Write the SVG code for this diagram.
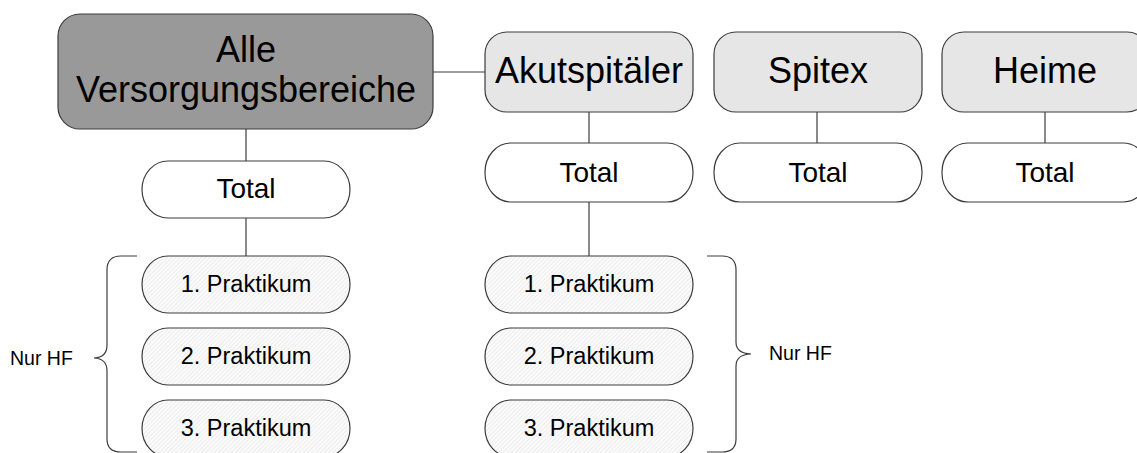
<svg xmlns="http://www.w3.org/2000/svg" width="1137" height="453" viewBox="0 0 1137 453">
<style>
  text { font-family: "Liberation Sans", Arial, sans-serif; fill: #000; text-anchor: middle; }
  .ln { stroke: #3c3c3c; stroke-width: 1.2; fill: none; }
  .main { fill: #999999; stroke: #3c3c3c; stroke-width: 1.2; }
  .cat { fill: #e6e6e6; stroke: #3c3c3c; stroke-width: 1.2; }
  .tot { fill: #ffffff; stroke: #3c3c3c; stroke-width: 1.2; }
  .prak { fill: url(#hatch); stroke: #3c3c3c; stroke-width: 1.2; }
  .big { font-size: 36px; }
  .mid { font-size: 28px; }
  .sm { font-size: 23.5px; }
  .note { font-size: 19.5px; text-anchor: start; }
</style>
<defs>
  <pattern id="hatch" patternUnits="userSpaceOnUse" width="3" height="3" patternTransform="rotate(45)">
    <rect width="3" height="3" fill="#fbfbfb"/>
    <line x1="0" y1="0" x2="0" y2="3" stroke="#dedede" stroke-width="1"/>
  </pattern>
</defs>
<rect width="1137" height="453" fill="#ffffff"/>

<g id="connectors">
  <line class="ln" x1="433" y1="72" x2="485" y2="72"/>
  <line class="ln" x1="246" y1="129" x2="246" y2="161"/>
  <line class="ln" x1="246" y1="218" x2="246" y2="256"/>
  <line class="ln" x1="589" y1="112" x2="589" y2="143"/>
  <line class="ln" x1="589" y1="202" x2="589" y2="256"/>
  <line class="ln" x1="817" y1="112" x2="817" y2="143"/>
  <line class="ln" x1="1045" y1="112" x2="1045" y2="143"/>
</g>

<g id="brace-left">
  <path class="ln" d="M137,256 H121 Q107,256 107,270 V345 Q107,357.5 94,358 Q107,358.5 107,371 V439 Q107,452 121,452 H137"/>
  <text class="note" x="10" y="365">Nur HF</text>
</g>
<g id="brace-right">
  <path class="ln" d="M707,256 H722 Q736,256 736,270 V342 Q736,353.5 751,354 Q736,354.5 736,366 V439 Q736,452 722,452 H707"/>
  <text class="note" x="769" y="360">Nur HF</text>
</g>

<g id="node-alle">
  <rect class="main" x="58" y="14" width="375" height="115" rx="22" ry="22"/>
  <text class="big" x="246" y="62">Alle</text>
  <text class="big" x="246" y="102">Versorgungsbereiche</text>
</g>
<g id="node-akut">
  <rect class="cat" x="485" y="32" width="208" height="80" rx="22" ry="22"/>
  <text class="big" x="589" y="83">Akutspitäler</text>
</g>
<g id="node-spitex">
  <rect class="cat" x="714" y="32" width="208" height="80" rx="22" ry="22"/>
  <text class="big" x="818" y="83">Spitex</text>
</g>
<g id="node-heime">
  <rect class="cat" x="942" y="32" width="207" height="80" rx="22" ry="22"/>
  <text class="big" x="1045" y="83">Heime</text>
</g>

<g id="node-total-alle">
  <rect class="tot" x="142" y="161" width="208" height="57" rx="26" ry="28.5"/>
  <text class="mid" x="246" y="198">Total</text>
</g>
<g id="node-total-akut">
  <rect class="tot" x="485" y="143" width="208" height="59" rx="26" ry="29"/>
  <text class="mid" x="589" y="182">Total</text>
</g>
<g id="node-total-spitex">
  <rect class="tot" x="714" y="143" width="208" height="59" rx="26" ry="29"/>
  <text class="mid" x="818" y="182">Total</text>
</g>
<g id="node-total-heime">
  <rect class="tot" x="942" y="143" width="207" height="59" rx="26" ry="29"/>
  <text class="mid" x="1045" y="182">Total</text>
</g>

<g id="node-p1-alle">
  <rect class="prak" x="142" y="256" width="208" height="57" rx="26" ry="28.5"/>
  <text class="sm" x="246" y="292">1. Praktikum</text>
</g>
<g id="node-p2-alle">
  <rect class="prak" x="142" y="328" width="208" height="57" rx="26" ry="28.5"/>
  <text class="sm" x="246" y="364">2. Praktikum</text>
</g>
<g id="node-p3-alle">
  <rect class="prak" x="142" y="400" width="208" height="57" rx="26" ry="28.5"/>
  <text class="sm" x="246" y="436">3. Praktikum</text>
</g>
<g id="node-p1-akut">
  <rect class="prak" x="485" y="256" width="208" height="57" rx="26" ry="28.5"/>
  <text class="sm" x="589" y="292">1. Praktikum</text>
</g>
<g id="node-p2-akut">
  <rect class="prak" x="485" y="328" width="208" height="57" rx="26" ry="28.5"/>
  <text class="sm" x="589" y="364">2. Praktikum</text>
</g>
<g id="node-p3-akut">
  <rect class="prak" x="485" y="400" width="208" height="57" rx="26" ry="28.5"/>
  <text class="sm" x="589" y="436">3. Praktikum</text>
</g>
</svg>
